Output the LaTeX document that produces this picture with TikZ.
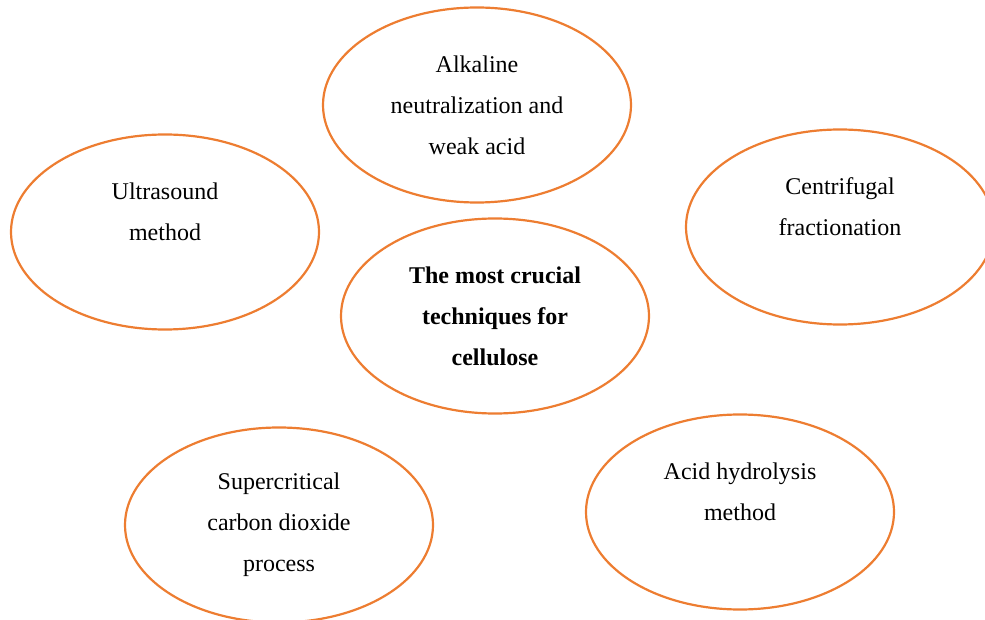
\documentclass[tikz,border=0pt]{standalone}
\usepackage{fontspec}
\setmainfont{Liberation Serif}
\usetikzlibrary{shapes.geometric}
\definecolor{accent}{HTML}{ED7D31}
\tikzset{
  tech/.style={ellipse, draw=accent, line width=1.1pt, minimum width=154pt,
    minimum height=97.5pt, inner sep=0pt, align=center,
    font=\fontsize{12}{20.5}\selectfont}
}
\begin{document}
\begin{tikzpicture}[x=0.5pt, y=-0.5pt]
      \useasboundingbox (0,0) rectangle (985,620);
      \node[tech] (alkaline) at (477,105) {Alkaline\\neutralization and\\weak acid};
      \node[tech] (ultrasound) at (165,232) {Ultrasound\\method\\~};
      \node[tech] (centrifugal) at (840,227) {Centrifugal\\fractionation\\~};
      \node[tech] (crucial) at (495,316) {\bfseries The most crucial\\\bfseries techniques for\\\bfseries cellulose};
      \node[tech] (supercritical) at (279,525) {Supercritical\\carbon dioxide\\process};
      \node[tech] (hydrolysis) at (740,512) {Acid hydrolysis\\method\\~};
    \end{tikzpicture}
\end{document}
